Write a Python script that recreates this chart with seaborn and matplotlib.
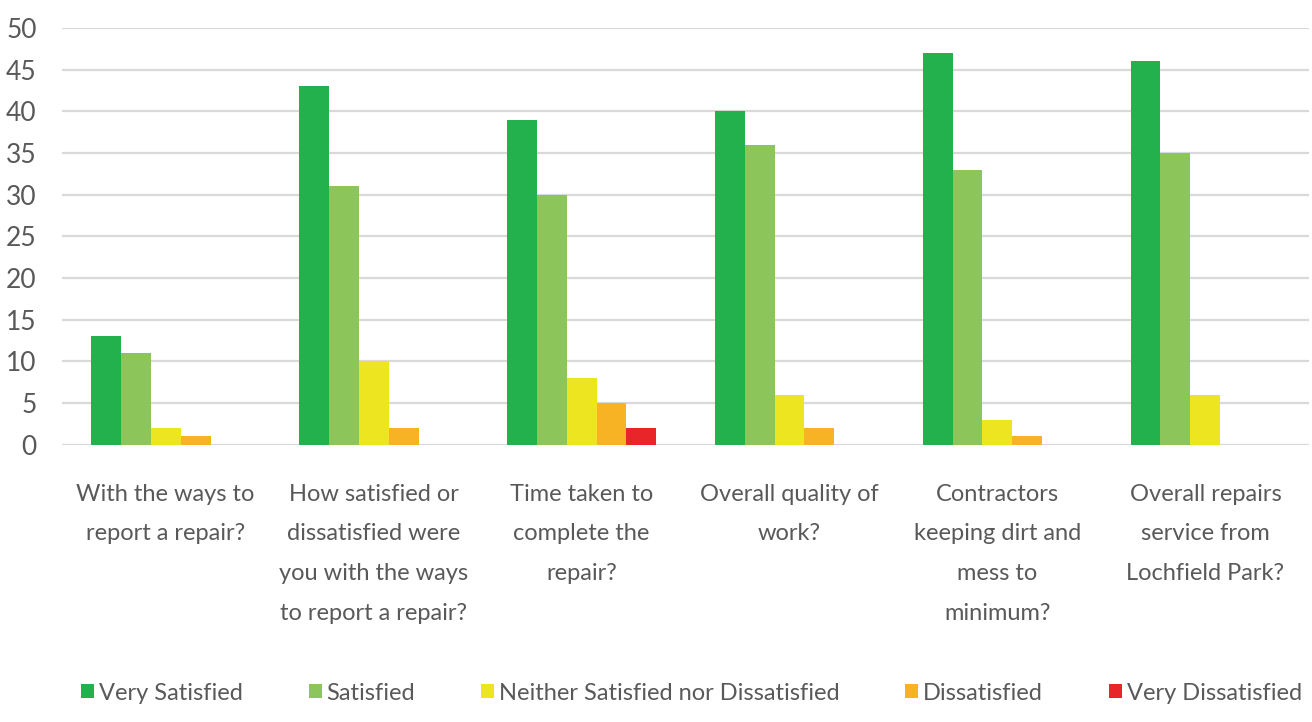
import pandas as pd
import numpy as np
import seaborn as sns
import matplotlib.pyplot as plt

questions = [
    "With the ways to\nreport a repair?",
    "How satisfied or\ndissatisfied were\nyou with the ways\nto report a repair?",
    "Time taken to\ncomplete the\nrepair?",
    "Overall quality of\nwork?",
    "Contractors\nkeeping dirt and\nmess to\nminimum?",
    "Overall repairs\nservice from\nLochfield Park?",
]
levels = ["Very Satisfied", "Satisfied", "Neither Satisfied nor Dissatisfied",
          "Dissatisfied", "Very Dissatisfied"]
very_satisfied = [13, 43, 39, 40, 47, 46]
satisfied = [11, 31, 30, 36, 33, 35]
neither = [2, 10, 8, 6, 3, 6]
dissatisfied = [1, 2, 5, 2, 1, 0]
very_dissatisfied = [0, 0, 2, 0, 0, 0]
colors = ["#22b14c", "#8cc55a", "#ece51f", "#f8b324", "#e8262a"]

series = [very_satisfied, satisfied, neither, dissatisfied, very_dissatisfied]
rows = []
for lvl, vals in zip(levels, series):
    for q, v in zip(questions, vals):
        rows.append({"question": q, "level": lvl, "count": v})
df = pd.DataFrame(rows)

sns.set_style("white")
plt.rcParams['font.family'] = ['Lato', 'DejaVu Sans']
text_color = "#595959"
fs = 17

fig = plt.figure(figsize=(13.12, 7.22), dpi=100)
ax = fig.add_axes([0.047, 0.384, 0.951, 0.577])

sns.barplot(data=df, x="question", y="count", hue="level", order=questions,
            hue_order=levels, palette=colors, width=0.72, saturation=1,
            edgecolor="none", ax=ax, zorder=3)

ax.set_ylim(0, 50)
ax.set_yticks(np.arange(0, 51, 5))
ax.set_xlim(-0.5, 5.5)
ax.yaxis.grid(True, color="#d9d9d9", linewidth=1.6, zorder=0)
ax.set_axisbelow(True)
for s in ax.spines.values():
    s.set_visible(False)
ax.set_xlabel("")
ax.set_ylabel("")
ax.tick_params(axis="y", length=0, pad=18, labelsize=19, labelcolor=text_color)
ax.tick_params(axis="x", length=0, pad=28, labelsize=fs, labelcolor=text_color)
for lab in ax.get_xticklabels():
    lab.set_linespacing(2.1)
    lab.set_multialignment("center")

handles, labels = ax.get_legend_handles_labels()
ax.legend_.remove()
fig.legend(handles, labels, loc="center", bbox_to_anchor=(0.527, 0.04), ncol=5,
           frameon=False, fontsize=fs, labelcolor=text_color,
           handlelength=0.55, handleheight=0.55, handletextpad=0.2,
           columnspacing=2.8)

fig.savefig("out.png", dpi=100)
